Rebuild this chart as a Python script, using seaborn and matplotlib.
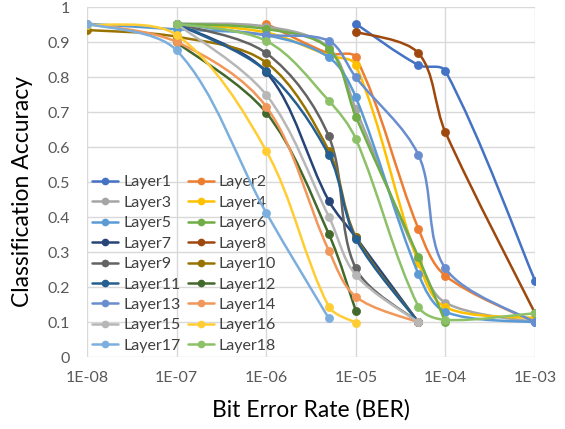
import numpy as np
import pandas as pd
import matplotlib
matplotlib.use("Agg")
import matplotlib.pyplot as plt
import seaborn as sns
from matplotlib.path import Path
from matplotlib.patches import PathPatch
from matplotlib.lines import Line2D

# ---------------- data ----------------
ber = [1e-8, 1e-7, 1e-6, 5e-6, 1e-5, 5e-5, 1e-4, 1e-3]
nan = np.nan
layer_names = [f"Layer{i}" for i in range(1, 19)]
layer1  = [nan,   nan,   nan,   nan,   0.953, 0.835, 0.818, 0.219]
layer2  = [nan,   nan,   0.953, 0.868, 0.857, 0.367, 0.233, 0.100]
layer3  = [nan,   0.953, 0.945, 0.885, 0.709, 0.280, 0.156, 0.100]
layer4  = [nan,   0.953, 0.928, 0.862, 0.835, 0.270, 0.143, 0.112]
layer5  = [0.953, 0.937, 0.920, 0.857, 0.743, 0.238, 0.130, 0.100]
layer6  = [nan,   0.953, 0.938, 0.882, 0.688, 0.286, 0.100, nan]
layer7  = [nan,   0.953, 0.815, 0.447, 0.343, 0.100, nan,   nan]
layer8  = [nan,   nan,   nan,   nan,   0.930, 0.869, 0.643, 0.126]
layer9  = [nan,   0.953, 0.869, 0.631, 0.254, 0.100, nan,   nan]
layer10 = [0.935, 0.916, 0.842, 0.590, 0.345, 0.100, nan,   nan]
layer11 = [nan,   0.953, 0.818, 0.578, 0.339, 0.100, nan,   nan]
layer12 = [nan,   0.900, 0.699, 0.352, 0.133, nan,   nan,   nan]
layer13 = [nan,   0.953, 0.921, 0.904, 0.800, 0.578, 0.254, 0.100]
layer14 = [0.953, 0.901, 0.716, 0.305, 0.173, 0.100, nan,   nan]
layer15 = [nan,   0.953, 0.750, 0.402, 0.235, 0.100, nan,   nan]
layer16 = [0.950, 0.921, 0.590, 0.145, 0.099, nan,   nan,   nan]
layer17 = [0.953, 0.877, 0.413, 0.111, nan,   nan,   nan,   nan]
layer18 = [nan,   0.953, 0.904, 0.733, 0.624, 0.145, 0.107, 0.126]
series = [layer1, layer2, layer3, layer4, layer5, layer6, layer7, layer8, layer9,
          layer10, layer11, layer12, layer13, layer14, layer15, layer16, layer17, layer18]

colors = ["#4472C4", "#ED7D31", "#A5A5A5", "#FFC000", "#5B9BD5", "#70AD47",
          "#264478", "#9E480E", "#636363", "#997300", "#255E91", "#43682B",
          "#698ED0", "#F1975A", "#B7B7B7", "#FFCD33", "#7CAFDD", "#8CC168"]

xtick_vals = [1e-8, 1e-7, 1e-6, 1e-5, 1e-4, 1e-3]
xtick_labels = ["1E-08", "1E-07", "1E-06", "1E-05", "1E-04", "1E-03"]
ytick_vals = [0, 0.1, 0.2, 0.3, 0.4, 0.5, 0.6, 0.7, 0.8, 0.9, 1.0]
ytick_labels = ["0", "0.1", "0.2", "0.3", "0.4", "0.5", "0.6", "0.7", "0.8", "0.9", "1"]

rows = []
for name, vals in zip(layer_names, series):
    for x, y in zip(ber, vals):
        if not np.isnan(y):
            rows.append({"Layer": name, "BER": x, "Accuracy": y})
df = pd.DataFrame(rows)

# ---------------- style ----------------
sns.set_theme(style="white")
plt.rcParams["font.family"] = ["Lato", "DejaVu Sans"]

fig = plt.figure(figsize=(5.65, 4.29), dpi=100)
ax = fig.add_axes([87 / 565, 1 - 357.3 / 429, 448 / 565, 350 / 429])
ax.set_xscale("log")
ax.set_xlim(1e-8, 1e-3)
ax.set_ylim(0, 1)

# screen-like scaling (decade width vs unit height) used for the smoothing only
SX, SY = 89.7, 350.0


def smooth_path(xs, ys):
    """Excel-like smoothed line: Bezier segments whose control points come from
    neighbouring data points (tangent scaled by relative segment lengths)."""
    p = np.column_stack([np.log10(xs) * SX, np.asarray(ys) * SY])
    n = len(p)
    d = [np.hypot(*(p[i + 1] - p[i])) for i in range(n - 1)]
    verts = [p[0]]
    codes = [Path.MOVETO]
    for i in range(n - 1):
        p1, p2 = p[i], p[i + 1]
        if i > 0:
            t1 = (p2 - p[i - 1]) * d[i] / (d[i - 1] + d[i]) / 3.0
        else:
            t1 = (p2 - p1) / 3.0 * 0.5
        if i + 2 < n:
            t2 = (p[i + 2] - p1) * d[i] / (d[i] + d[i + 1]) / 3.0
        else:
            t2 = (p2 - p1) / 3.0 * 0.5
        c1 = p1 + t1
        c2 = p2 - t2
        verts += [c1, c2, p2]
        codes += [Path.CURVE4] * 3
    v = np.array(verts)
    v[:, 0] = 10 ** (v[:, 0] / SX)
    v[:, 1] = v[:, 1] / SY
    return Path(v, codes)


for i, (name, col) in enumerate(zip(layer_names, colors)):
    sub = df[df["Layer"] == name]
    patch = PathPatch(smooth_path(sub["BER"].values, sub["Accuracy"].values),
                      facecolor="none", edgecolor=col, lw=1.8, zorder=3 + 2 * i,
                      capstyle="round", joinstyle="round")
    ax.add_patch(patch)
    sns.scatterplot(data=sub, x="BER", y="Accuracy", color=col, s=34,
                    edgecolor=col, linewidth=0.5, ax=ax, zorder=4 + 2 * i, legend=False)

ax.set_xticks(xtick_vals)
ax.set_xticklabels(xtick_labels)
ax.set_yticks(ytick_vals)
ax.set_yticklabels(ytick_labels)
ax.xaxis.set_minor_locator(matplotlib.ticker.NullLocator())
ax.grid(True, color="#D9D9D9", lw=1.0, zorder=0)
ax.set_axisbelow(True)
for s in ax.spines.values():
    s.set_visible(False)
ax.tick_params(axis="both", length=0, labelsize=11.5, colors="#595959")
ax.tick_params(axis="y", pad=12)
ax.tick_params(axis="x", pad=10)

ax.set_xlabel("Bit Error Rate (BER)", fontsize=16.5, color="black")
ax.set_ylabel("Classification Accuracy", fontsize=16.5, color="black")
ax.xaxis.set_label_coords(0.5, -0.118)
ax.yaxis.set_label_coords(-0.12, 0.475)

# legend: row-major order like the reference
order = list(range(0, 18, 2)) + list(range(1, 18, 2))
handles = [Line2D([], [], color=colors[k], lw=1.8, marker="o", markersize=4.5) for k in order]
labels = [layer_names[k] for k in order]
leg = ax.legend(handles, labels, ncol=2, loc="upper left", bbox_to_anchor=(0.011, 0.52),
                frameon=False, fontsize=11.5, handlelength=1.65, handletextpad=0.3,
                columnspacing=0.45, labelspacing=0.39, borderaxespad=0, borderpad=0)
for t in leg.get_texts():
    t.set_color("#404040")

fig.savefig("out.png", dpi=100)
